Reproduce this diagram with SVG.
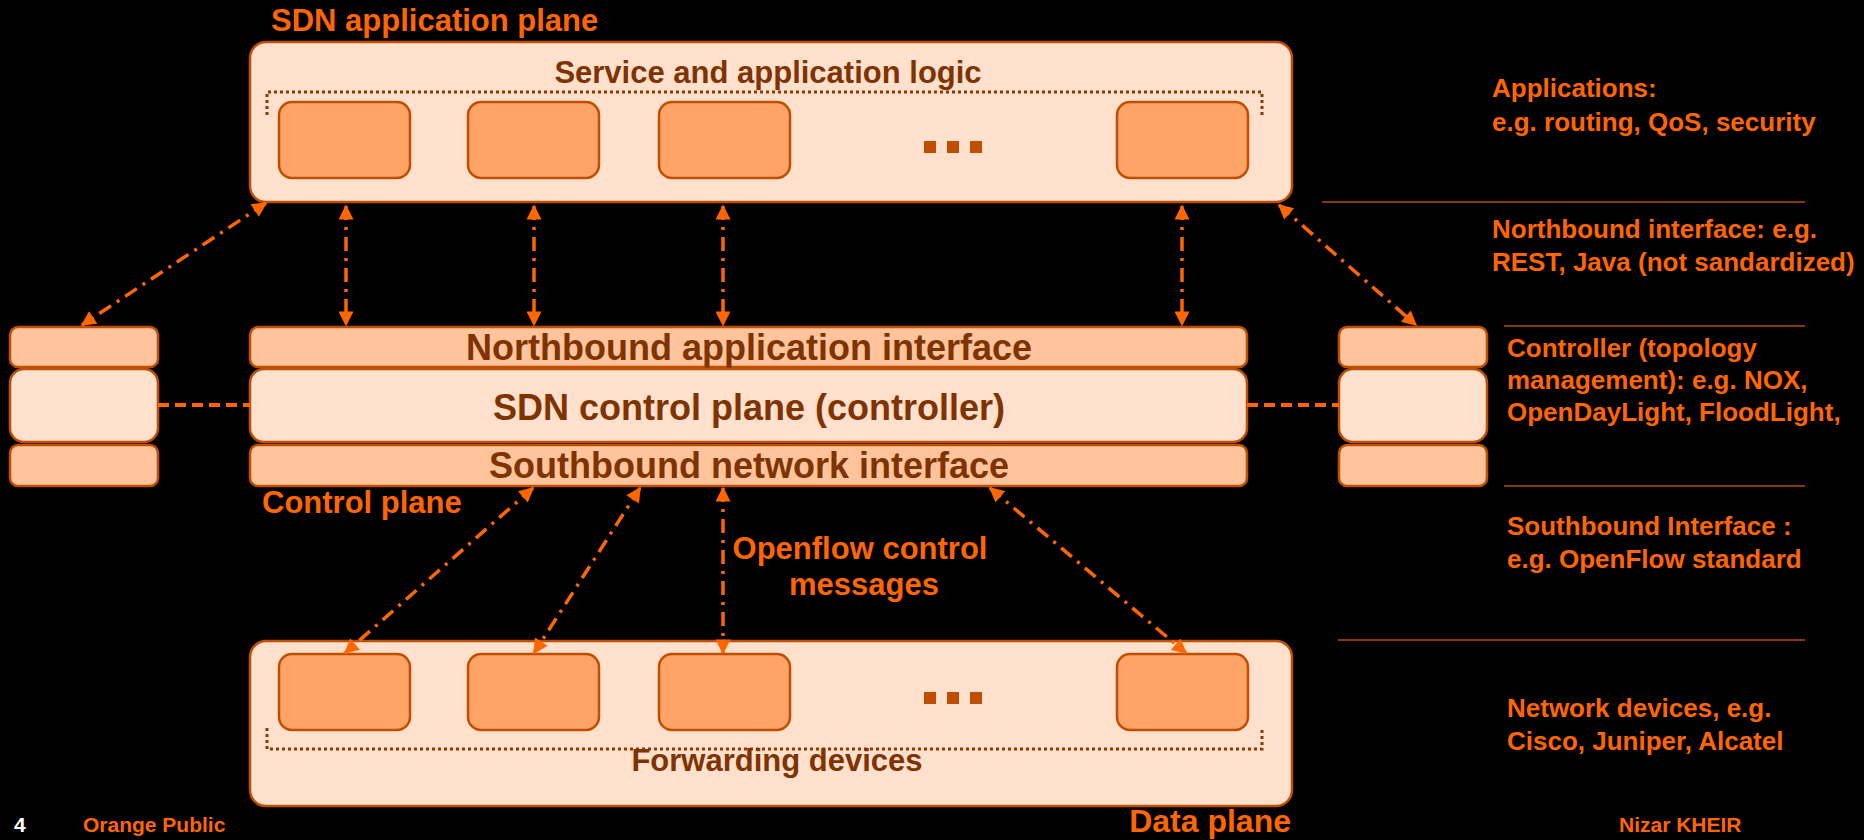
<svg xmlns="http://www.w3.org/2000/svg" width="1864" height="840" viewBox="0 0 1864 840">
  <defs>
    <style>
      text { font-family: "Liberation Sans", Arial, Helvetica, sans-serif; font-weight: bold; }
      .plane { fill: #FFE0CC; stroke: #C04E00; stroke-width: 2.5; }
      .unit { fill: #FFA466; stroke: #C04E00; stroke-width: 2.5; }
      .bar { fill: #FFC49B; stroke: #C04E00; stroke-width: 2.5; }
      .inner { fill: #FFE0CC; stroke: #C04E00; stroke-width: 2.5; }
      .frame { fill: none; stroke: #8A3A00; stroke-width: 3; stroke-dasharray: 3 3; }
      .dot { fill: #C04E00; }
      .dark { fill: #7F3300; }
      .orange { fill: #FF6600; }
      .flow { fill: none; stroke: #FF6600; stroke-width: 3.5; stroke-dasharray: 14 7 3 7; marker-start: url(#tip); marker-end: url(#tip); }
      .link { fill: none; stroke: #FF6600; stroke-width: 4; stroke-dasharray: 11 6; }
      .rule { stroke: #B84A00; stroke-width: 1.5; }
    </style>
    <marker id="tip" viewBox="0 0 10 10" refX="9" refY="5" markerWidth="16" markerHeight="15" markerUnits="userSpaceOnUse" orient="auto-start-reverse">
      <path d="M0,0 L10,5 L0,10 z" fill="#FF6600"/>
    </marker>
  </defs>

  <rect width="1864" height="840" fill="#000"/>

  <!-- application plane -->
  <g id="app-plane">
    <text x="271" y="31" class="orange" font-size="31">SDN application plane</text>
    <rect class="plane" x="250" y="42" width="1042" height="160" rx="16"/>
    <text x="768" y="83" class="dark" font-size="31" text-anchor="middle">Service and application logic</text>
    <path class="frame" d="M267,115 V92 H1262 V115"/>
  </g>
  <g id="app-1"><rect class="unit" x="279" y="102" width="131" height="76" rx="13"/></g>
  <g id="app-2"><rect class="unit" x="468" y="102" width="131" height="76" rx="13"/></g>
  <g id="app-3"><rect class="unit" x="659" y="102" width="131" height="76" rx="13"/></g>
  <g id="app-more">
    <rect class="dot" x="924" y="141" width="12" height="12"/>
    <rect class="dot" x="947" y="141" width="12" height="12"/>
    <rect class="dot" x="970" y="141" width="12" height="12"/>
  </g>
  <g id="app-n"><rect class="unit" x="1117" y="102" width="131" height="76" rx="13"/></g>

  <!-- control plane -->
  <g id="controller">
    <rect class="bar" x="250" y="327" width="997" height="40" rx="8"/>
    <text x="749" y="360" class="dark" font-size="36" text-anchor="middle">Northbound application interface</text>
    <rect class="inner" x="250" y="369" width="997" height="73" rx="14"/>
    <text x="749" y="420" class="dark" font-size="36" text-anchor="middle">SDN control plane (controller)</text>
    <rect class="bar" x="250" y="445" width="997" height="41" rx="8"/>
    <text x="749" y="478" class="dark" font-size="36" text-anchor="middle">Southbound network interface</text>
    <text x="262" y="513" class="orange" font-size="31">Control plane</text>
  </g>
  <g id="controller-left">
    <rect class="bar" x="10" y="327" width="148" height="40" rx="8"/>
    <rect class="inner" x="10" y="369" width="148" height="73" rx="14"/>
    <rect class="bar" x="10" y="445" width="148" height="41" rx="8"/>
  </g>
  <g id="controller-right">
    <rect class="bar" x="1339" y="327" width="148" height="40" rx="8"/>
    <rect class="inner" x="1339" y="369" width="148" height="73" rx="14"/>
    <rect class="bar" x="1339" y="445" width="148" height="41" rx="8"/>
  </g>

  <!-- data plane -->
  <g id="data-plane">
    <rect class="plane" x="250" y="641" width="1042" height="165" rx="16"/>
    <path class="frame" d="M267,728 V749 H1262 V728"/>
    <text x="777" y="771" class="dark" font-size="31" text-anchor="middle">Forwarding devices</text>
    <text x="1291" y="832" class="orange" font-size="32" text-anchor="end">Data plane</text>
  </g>
  <g id="dev-1"><rect class="unit" x="279" y="654" width="131" height="76" rx="13"/></g>
  <g id="dev-2"><rect class="unit" x="468" y="654" width="131" height="76" rx="13"/></g>
  <g id="dev-3"><rect class="unit" x="659" y="654" width="131" height="76" rx="13"/></g>
  <g id="dev-more">
    <rect class="dot" x="924" y="692" width="12" height="12"/>
    <rect class="dot" x="947" y="692" width="12" height="12"/>
    <rect class="dot" x="970" y="692" width="12" height="12"/>
  </g>
  <g id="dev-n"><rect class="unit" x="1117" y="654" width="131" height="76" rx="13"/></g>

  <!-- connectors -->
  <g id="connectors">
    <line class="flow" x1="346" y1="206" x2="346" y2="325"/>
    <line class="flow" x1="534" y1="206" x2="534" y2="325"/>
    <line class="flow" x1="723" y1="206" x2="723" y2="325"/>
    <line class="flow" x1="1182" y1="206" x2="1182" y2="325"/>
    <line class="flow" x1="266" y1="203" x2="82" y2="325"/>
    <line class="flow" x1="1279" y1="205" x2="1416" y2="325"/>
    <line class="flow" x1="533" y1="488" x2="345" y2="653"/>
    <line class="flow" x1="640" y1="488" x2="534" y2="653"/>
    <line class="flow" x1="723" y1="488" x2="723" y2="653"/>
    <line class="flow" x1="990" y1="488" x2="1186" y2="653"/>
    <line class="link" x1="158" y1="405" x2="250" y2="405"/>
    <line class="link" x1="1247" y1="405" x2="1339" y2="405"/>
  </g>
  <g id="openflow-label">
    <text x="860" y="559" class="orange" font-size="31" text-anchor="middle">Openflow control</text>
    <text x="864" y="595" class="orange" font-size="31" text-anchor="middle">messages</text>
  </g>

  <!-- legend column -->
  <g id="legend">
    <text x="1492" y="97" class="orange" font-size="26">Applications:</text>
    <text x="1492" y="131" class="orange" font-size="26">e.g. routing, QoS, security</text>
    <line class="rule" x1="1322" y1="202" x2="1805" y2="202"/>
    <text x="1492" y="238" class="orange" font-size="26">Northbound interface: e.g.</text>
    <text x="1492" y="271" class="orange" font-size="26">REST, Java (not sandardized)</text>
    <line class="rule" x1="1504" y1="326" x2="1805" y2="326"/>
    <text x="1507" y="357" class="orange" font-size="26">Controller (topology</text>
    <text x="1507" y="389" class="orange" font-size="26">management): e.g. NOX,</text>
    <text x="1507" y="421" class="orange" font-size="26">OpenDayLight, FloodLight,</text>
    <line class="rule" x1="1504" y1="486" x2="1805" y2="486"/>
    <text x="1507" y="535" class="orange" font-size="26">Southbound Interface :</text>
    <text x="1507" y="568" class="orange" font-size="26">e.g. OpenFlow standard</text>
    <line class="rule" x1="1338" y1="640" x2="1805" y2="640"/>
    <text x="1507" y="717" class="orange" font-size="26">Network devices, e.g.</text>
    <text x="1507" y="750" class="orange" font-size="26">Cisco, Juniper, Alcatel</text>
  </g>

  <!-- footer -->
  <g id="footer">
    <text x="14" y="832" fill="#fff" font-size="21">4</text>
    <text x="83" y="832" class="orange" font-size="21">Orange Public</text>
    <text x="1619" y="832" class="orange" font-size="21">Nizar KHEIR</text>
  </g>
</svg>
